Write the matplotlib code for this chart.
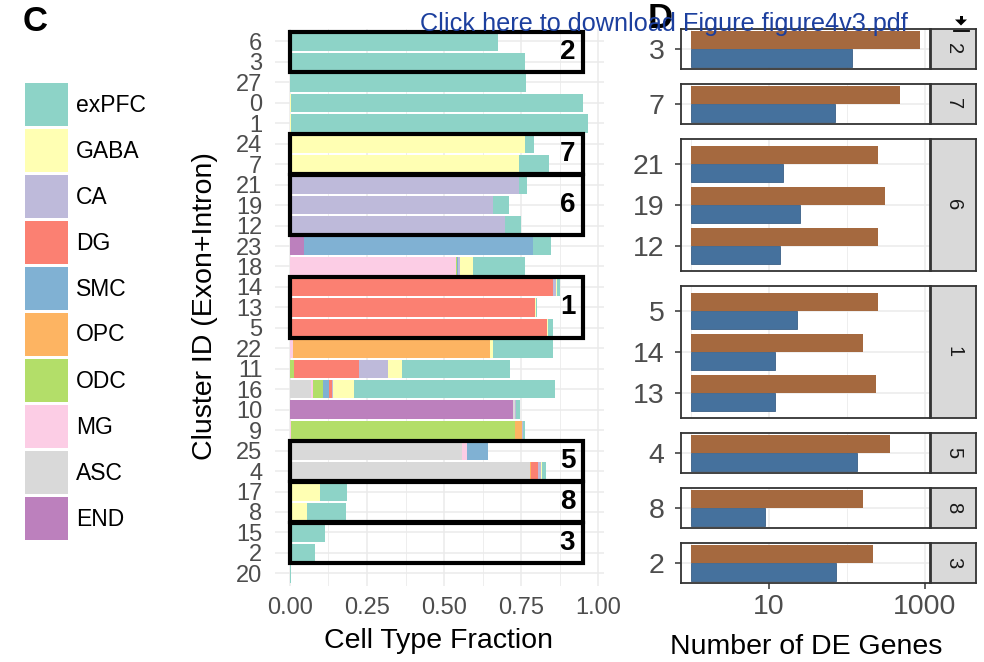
import matplotlib
matplotlib.use("Agg")
import matplotlib.pyplot as plt
import numpy as np
from matplotlib.patches import Rectangle, Polygon
from matplotlib.lines import Line2D
from matplotlib.ticker import FixedLocator, NullFormatter

plt.rcParams['font.family'] = ['Liberation Sans', 'DejaVu Sans']

# --- panel C data: cell type fractions per cluster (top to bottom) ---
clusters = ["6", "3", "27", "0", "1", "24", "7", "21", "19", "12", "23", "18", "14", "13",
            "5", "22", "11", "16", "10", "9", "25", "4", "17", "8", "15", "2", "20"]

exPFC = [0.674, 0.763, 0.766, 0.946, 0.962, 0.028, 0.098, 0.026, 0.050, 0.051, 0.058, 0.169, 0.011, 0.004,
         0.017, 0.195, 0.350, 0.654, 0.013, 0.007, 0.000, 0.013, 0.088, 0.126, 0.108, 0.078, 0.005]
GABA = [0, 0, 0, 0.004, 0.004, 0.763, 0.742, 0, 0, 0, 0, 0.043, 0.003, 0.002,
        0.003, 0.010, 0.046, 0.068, 0, 0, 0, 0.003, 0.097, 0.055, 0, 0.003, 0]
CA = [0, 0, 0, 0, 0, 0, 0, 0.738, 0.660, 0.699, 0, 0.004, 0.009, 0,
      0, 0, 0.094, 0.004, 0.003, 0.004, 0, 0.010, 0, 0, 0, 0, 0]
DG = [0, 0, 0, 0, 0, 0, 0, 0.004, 0, 0, 0, 0, 0.853, 0.795,
      0.833, 0, 0.210, 0.007, 0, 0, 0, 0.021, 0, 0, 0.005, 0, 0]
SMC = [0, 0, 0, 0, 0, 0, 0, 0, 0, 0, 0.744, 0.003, 0, 0,
       0, 0, 0, 0.021, 0, 0, 0.068, 0, 0, 0, 0, 0, 0]
OPC = [0, 0, 0, 0, 0, 0, 0, 0, 0, 0, 0, 0, 0, 0,
       0, 0.639, 0, 0, 0, 0.020, 0, 0.006, 0, 0, 0, 0, 0]
ODC = [0, 0, 0, 0, 0, 0, 0, 0, 0, 0, 0, 0.004, 0, 0,
       0, 0, 0.013, 0.032, 0, 0.726, 0, 0, 0, 0, 0, 0, 0]
MG = [0, 0, 0, 0, 0, 0, 0, 0, 0, 0, 0, 0.539, 0, 0,
      0, 0.009, 0, 0.006, 0, 0.005, 0.017, 0, 0, 0, 0, 0, 0]
ASC = [0, 0, 0, 0, 0, 0, 0, 0, 0, 0, 0, 0, 0, 0,
       0, 0, 0, 0.069, 0.006, 0, 0.557, 0.777, 0, 0, 0, 0, 0]
END = [0, 0, 0, 0, 0, 0, 0, 0, 0, 0, 0.044, 0, 0, 0,
       0, 0, 0, 0, 0.724, 0, 0, 0, 0, 0, 0, 0, 0]

cell_types = ["exPFC", "GABA", "CA", "DG", "SMC", "OPC", "ODC", "MG", "ASC", "END"]
fractions = [exPFC, GABA, CA, DG, SMC, OPC, ODC, MG, ASC, END]
type_colors = ["#8DD3C7", "#FFFFB3", "#BEBADA", "#FB8072", "#80B1D3",
               "#FDB462", "#B3DE69", "#FCCDE5", "#D9D9D9", "#BC80BD"]

group_labels = ["2", "7", "6", "1", "5", "8", "3"]
group_members = [["6", "3"], ["24", "7"], ["21", "19", "12"], ["14", "13", "5"],
                 ["25", "4"], ["17", "8"], ["15", "2"]]

# --- panel D data: number of DE genes per cluster, grouped ---
de_groups = [["3"], ["7"], ["21", "19", "12"], ["5", "14", "13"], ["4"], ["8"], ["2"]]
de_clusters = ["3", "7", "21", "19", "12", "5", "14", "13", "4", "8", "2"]
de_exon_intron = [863, 473, 247, 307, 247, 247, 159, 233, 353, 159, 213]
de_exon = [116, 70, 15, 25, 14, 23, 12, 12, 133, 9, 72]

W, H = 984, 662
fig = plt.figure(figsize=(W / 100, H / 100), dpi=100)


def px_rect(x0, y0, x1, y1):
    return [x0 / W, 1 - y1 / H, (x1 - x0) / W, (y1 - y0) / H]


def px(x, y):
    return (x / W, 1 - y / H)


grid_col = "#EBEBEB"
tick_col = "#4D4D4D"

# ---------------- panel C ----------------
ax = fig.add_axes(px_rect(275, 29.2, 604, 585.6))
ypos = np.arange(len(clusters))[::-1]
left = np.zeros(len(clusters))
# stacking from left: reverse of legend order
for name, vals, col in list(zip(cell_types, fractions, type_colors))[::-1]:
    vals = np.array(vals)
    ax.barh(ypos, vals, left=left, height=0.9, color=col, linewidth=0, zorder=2)
    left += vals

ax.set_xlim(-0.0485, 1.0185)
ax.set_ylim(-0.6, len(clusters) - 1 + 0.6)
ax.set_yticks(ypos)
ax.set_yticklabels(clusters)
ax.set_xticks([0, 0.25, 0.5, 0.75, 1.0])
ax.set_xticklabels(["0.00", "0.25", "0.50", "0.75", "1.00"])
ax.xaxis.set_minor_locator(FixedLocator([0.125, 0.375, 0.625, 0.875]))
ax.tick_params(axis='both', which='both', length=0, labelsize=17, labelcolor=tick_col)
ax.tick_params(axis='y', pad=9)
ax.tick_params(axis='x', pad=8)
ax.grid(which='major', color=grid_col, linewidth=1.1, zorder=0)
ax.grid(which='minor', axis='x', color=grid_col, linewidth=0.6, zorder=0)
ax.set_axisbelow(True)
for s in ax.spines.values():
    s.set_visible(False)

ymap = dict(zip(clusters, ypos))
for lab, members in zip(group_labels, group_members):
    ys = [ymap[m] for m in members]
    lo, hi = min(ys) - 0.48, max(ys) + 0.48
    ax.add_patch(Rectangle((0.001, lo), 0.948, hi - lo, fill=False,
                           edgecolor="black", linewidth=3, zorder=5))
    ax.text(0.9, (lo + hi) / 2, lab, ha='center', va='center', fontsize=20,
            fontweight='bold', zorder=6)

# legend
for k, (name, col) in enumerate(zip(cell_types, type_colors)):
    y0 = 83 + 46 * k
    fig.add_artist(Rectangle(px(25, y0 + 43), 43 / W, 43 / H,
                             transform=fig.transFigure, facecolor=col, edgecolor='none'))
    fig.text(76 / W, 1 - (y0 + 22) / H, name, ha='left', va='center', fontsize=16.5)

fig.text(439 / W, 1 - 641 / H, "Cell Type Fraction", ha='center', va='center', fontsize=20.5)
fig.text(205 / W, 1 - 306 / H, "Cluster ID (Exon+Intron)", ha='center', va='center',
         rotation=90, fontsize=20.5)

# ---------------- panel D ----------------
brown = "#A5693F"
blue = "#45719D"
top = 29
idx = 0
for g, members in enumerate(de_groups):
    n = len(members)
    h = 40 if n == 1 else 132
    pad = 0.49 if n == 1 else 0.61
    axd = fig.add_axes(px_rect(681, top, 930, top + h))
    yy = np.arange(n)[::-1]
    b1 = np.array(de_exon_intron[idx:idx + n])
    b2 = np.array(de_exon[idx:idx + n])
    axd.barh(yy + 0.225, b1 - 1, left=1, height=0.45, color=brown, zorder=2)
    axd.barh(yy - 0.225, b2 - 1, left=1, height=0.45, color=blue, edgecolor="#3A5F86",
             linewidth=0.6, zorder=2)
    axd.set_xscale('log')
    axd.set_xlim(10 ** -0.128, 10 ** 3.064)
    axd.set_ylim(-pad, n - 1 + pad)
    axd.set_yticks(yy)
    axd.set_yticklabels(de_clusters[idx:idx + n])
    axd.xaxis.set_major_locator(FixedLocator([10, 1000]))
    axd.xaxis.set_minor_locator(FixedLocator([1, 100]))
    axd.xaxis.set_minor_formatter(NullFormatter())
    axd.set_xticklabels(["10", "1000"])
    axd.tick_params(axis='both', which='major', length=4, width=1.1, color="#333333",
                    labelsize=20.5, labelcolor=tick_col, pad=8)
    axd.tick_params(axis='x', which='major', pad=4)
    axd.tick_params(axis='x', which='minor', length=0)
    axd.grid(which='major', color=grid_col, linewidth=1.1, zorder=0)
    axd.grid(which='minor', axis='x', color=grid_col, linewidth=0.6, zorder=0)
    axd.set_axisbelow(True)
    if g < len(de_groups) - 1:
        axd.tick_params(axis='x', which='major', length=0, labelbottom=False)
    for s in axd.spines.values():
        s.set_color("#333333")
        s.set_linewidth(1.3)

    st = fig.add_axes(px_rect(931, top, 976, top + h))
    st.set_facecolor("#D9D9D9")
    st.set_xticks([])
    st.set_yticks([])
    for s in st.spines.values():
        s.set_color("#333333")
        s.set_linewidth(1.3)
    st.text(0.5, 0.5, group_labels[g], transform=st.transAxes, ha='center', va='center',
            rotation=-90, fontsize=14.5, color="#1A1A1A")

    idx += n
    top += h + 15

fig.text(806 / W, 1 - 647 / H, "Number of DE Genes", ha='center', va='center', fontsize=20.5)

# panel letters and header link
fig.text(23 / W, 1 - 5 / H, "C", ha='left', va='top', fontsize=25, fontweight='bold')
fig.text(648 / W, 1 - 2 / H, "D", ha='left', va='top', fontsize=25, fontweight='bold')
fig.text(420 / W, 1 - 31 / H, "Click here to download Figure figure4v3.pdf", ha='left',
         va='baseline', fontsize=18.2, color="#1C3F9E", zorder=10)

# download icon (arrow onto a bar), drawn as a shape
fig.add_artist(Polygon([px(955, 19.5), px(967, 19.5), px(961, 25.5)], closed=True,
                       transform=fig.transFigure, facecolor="black", edgecolor="none", zorder=10))
fig.add_artist(Rectangle(px(959.5, 20), 3 / W, 4 / H, transform=fig.transFigure,
                         facecolor="black", edgecolor="none", zorder=10))
fig.add_artist(Line2D([954 / W, 969 / W], [1 - 30.5 / H, 1 - 30.5 / H],
                      transform=fig.transFigure, color="black", linewidth=1.3, zorder=10))

fig.savefig("out.png", dpi=100)
